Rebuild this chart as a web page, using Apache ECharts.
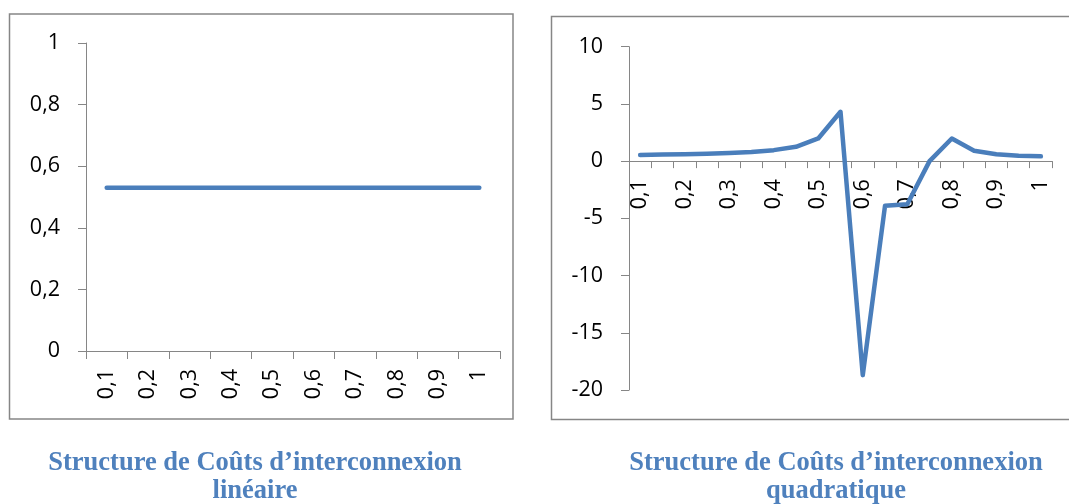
<!DOCTYPE html>
<html>
<head>
<meta charset="utf-8">
<script src="https://cdn.jsdelivr.net/npm/echarts@6/dist/echarts.min.js"></script>
<style>
html,body{margin:0;padding:0;background:#fff;}
#c{width:1069px;height:504px;}
</style>
</head>
<body>
<div id="c"></div>
<script>
// ---- data ----
var catsLin = ['0,1','0,2','0,3','0,4','0,5','0,6','0,7','0,8','0,9','1'];
var valsLin = [0.53,0.53,0.53,0.53,0.53,0.53,0.53,0.53,0.53,0.53];

var catsQuad = ['0,1','0,15','0,2','0,25','0,3','0,35','0,4','0,45','0,5','0,55',
                '0,6','0,65','0,7','0,75','0,8','0,85','0,9','0,95','1'];
var valsQuad = [0.53,0.57,0.6,0.65,0.7,0.79,0.96,1.25,1.98,4.31,
                -18.7,-3.9,-3.76,0.0,1.98,0.9,0.61,0.47,0.42];

var yMinQuad = -20, yMaxQuad = 10, yStepQuad = 5;

var captionLin = ['Structure de Coûts d\u2019interconnexion','linéaire'];
var captionQuad = ['Structure de Coûts d\u2019interconnexion','quadratique'];

// ---- styles ----
var axisColor = '#868686';
var lineColor = '#4A7EBB';
var labelFont = '"Open Sans"';
var labelSize = 21.5;
var fmt = function (v) { return String(Math.round(v * 100) / 100).replace('.', ','); };

var gridQ = {left: 629, top: 46.7, width: 423, height: 343.3};
// the category axis crosses the value axis at 0
var zeroOffset = -gridQ.height * (0 - yMinQuad) / (yMaxQuad - yMinQuad);

var chart = echarts.init(document.getElementById('c'), null, {renderer: 'canvas'});

function axisCommon() {
  return {
    axisLine: {show: true, onZero: false, lineStyle: {color: axisColor, width: 1}},
    axisTick: {show: true, inside: false, length: 8, lineStyle: {color: axisColor, width: 1}},
    splitLine: {show: false}
  };
}

var xL = Object.assign(axisCommon(), {
  type: 'category', gridIndex: 0, data: catsLin, boundaryGap: true, position: 'bottom',
  axisLabel: {rotate: 90, margin: 18, color: '#000', fontFamily: labelFont, fontSize: labelSize, interval: 0}
});
var yL = Object.assign(axisCommon(), {
  type: 'value', gridIndex: 0, min: 0, max: 1, interval: 0.2,
  axisLabel: {margin: 26, color: '#000', fontFamily: labelFont, fontSize: labelSize, formatter: fmt}
});
var xQ = Object.assign(axisCommon(), {
  type: 'category', gridIndex: 1, data: catsQuad, boundaryGap: true,
  position: 'bottom', offset: zeroOffset,
  axisLabel: {rotate: 90, margin: 18, color: '#000', fontFamily: labelFont, fontSize: labelSize, interval: 1}
});
xQ.axisTick = {show: true, interval: 0, length: 7, lineStyle: {color: axisColor, width: 1}};
var yQ = Object.assign(axisCommon(), {
  type: 'value', gridIndex: 1, min: yMinQuad, max: yMaxQuad, interval: yStepQuad,
  axisLabel: {margin: 26, color: '#000', fontFamily: labelFont, fontSize: labelSize, formatter: fmt}
});

function captionText(x, y, s) {
  return {type: 'text', x: x, y: y, silent: true,
    style: {text: s, x: 0, y: 0, fill: '#4F81BD', font: 'bold 26.5px "Liberation Serif"',
            align: 'center', verticalAlign: 'middle'}};
}

chart.setOption({
  animation: false,
  backgroundColor: '#ffffff',
  grid: [
    {left: 86, top: 43, width: 414, height: 308, containLabel: false},
    {left: gridQ.left, top: gridQ.top, width: gridQ.width, height: gridQ.height, containLabel: false}
  ],
  xAxis: [xL, xQ],
  yAxis: [yL, yQ],
  series: [
    {type: 'line', xAxisIndex: 0, yAxisIndex: 0, data: valsLin, showSymbol: false,
     lineStyle: {color: lineColor, width: 4.5, cap: 'round', join: 'round'}},
    {type: 'line', xAxisIndex: 1, yAxisIndex: 1, data: valsQuad, showSymbol: false,
     lineStyle: {color: lineColor, width: 4.5, cap: 'round', join: 'round'}}
  ],
  graphic: [
    {type: 'rect', silent: true, z: -1,
     shape: {x: 9.5, y: 14, width: 503.5, height: 405},
     style: {fill: 'none', stroke: axisColor, lineWidth: 1.5}},
    {type: 'rect', silent: true, z: -1,
     shape: {x: 551.5, y: 16.5, width: 600, height: 403},
     style: {fill: 'none', stroke: axisColor, lineWidth: 1.5}},
    captionText(255, 463.5, captionLin[0]),
    captionText(255, 491, captionLin[1]),
    captionText(836, 463.5, captionQuad[0]),
    captionText(836, 491, captionQuad[1])
  ]
});
</script>
</body>
</html>
